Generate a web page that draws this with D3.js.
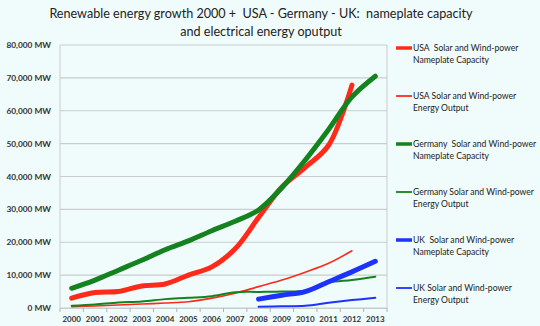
<!DOCTYPE html>
<html>
<head>
<meta charset="utf-8">
<script src="https://cdn.jsdelivr.net/npm/d3@7"></script>
<style>
  html, body { margin: 0; padding: 0; background: #f0fbfb; }
  svg { display: block; font-family: Lato, "Open Sans", sans-serif; }
  text { white-space: pre; }
</style>
</head>
<body>
<script>
const years = ['2000', '2001', '2002', '2003', '2004', '2005', '2006', '2007', '2008', '2009', '2010', '2011', '2012', '2013'];
const yTicks = [0, 10000, 20000, 30000, 40000, 50000, 60000, 70000, 80000];

const usaCapacity = [3000, 4700, 5000, 6700, 7300, 10000, 12500, 18000, 27500, 36800, 42800, 49500, 67800, null];
const usaOutput = [400, 600, 900, 1200, 1500, 1900, 3000, 4500, 6500, 8500, 10900, 13600, 17400, null];
const gerCapacity = [6000, 8500, 11500, 14500, 17700, 20400, 23500, 26400, 29800, 36600, 45000, 54300, 64200, 70500];
const gerOutput = [700, 1100, 1700, 2000, 2700, 3100, 3600, 4800, 4900, 5000, 5300, 7700, 8500, 9500];
const ukCapacity = [null, null, null, null, null, null, null, null, 2700, 3900, 5000, 8000, 11000, 14200];
const ukOutput = [null, null, null, null, null, null, null, null, 400, 500, 700, 1600, 2400, 3100];

const seriesNames = [
  ['USA  Solar and Wind-power', 'Nameplate Capacity'],
  ['USA Solar and Wind-power', 'Energy Output'],
  ['Germany  Solar and Wind-power', 'Nameplate Capacity'],
  ['Germany Solar and Wind-power', 'Energy Output'],
  ['UK  Solar and Wind-power', 'Nameplate Capacity'],
  ['UK Solar and Wind-power', 'Energy Output']
];

function main() {
  const width = 540;
  const height = 326;
  const margin = {top: 45, right: 153, bottom: 18, left: 60};

  const svg = d3.select('body').append('svg')
    .attr('width', width)
    .attr('height', height);

  svg.append('rect')
    .attr('width', width)
    .attr('height', height)
    .attr('fill', '#f0fbfb');

  const x = d3.scaleBand()
    .domain(years)
    .range([margin.left, width - margin.right]);

  const y = d3.scaleLinear()
    .domain([0, 80000])
    .range([height - margin.bottom, margin.top]);

  const series = [
    {values: usaCapacity, color: '#ff2a1a', w: 5},
    {values: usaOutput, color: '#ff2a1a', w: 1.6},
    {values: gerCapacity, color: '#14821e', w: 5},
    {values: gerOutput, color: '#14821e', w: 2},
    {values: ukCapacity, color: '#1e32ff', w: 5},
    {values: ukOutput, color: '#1e32ff', w: 2}
  ];

  // title
  const title = svg.append('text')
    .attr('text-anchor', 'middle')
    .attr('font-size', 12.6)
    .attr('fill', '#222');
  title.append('tspan').attr('x', 261).attr('y', 18)
    .text('Renewable energy growth 2000 +  USA - Germany - UK:  nameplate capacity');
  title.append('tspan').attr('x', 261).attr('y', 36)
    .text('and electrical energy oputput');

  // gridlines
  svg.append('g')
    .selectAll('line')
    .data(yTicks)
    .enter()
    .append('line')
    .attr('x1', margin.left)
    .attr('x2', width - margin.right)
    .attr('y1', d => y(d))
    .attr('y2', d => y(d))
    .attr('stroke', '#c9cdcd')
    .attr('stroke-width', 1.2);

  // plot frame sides
  svg.append('line')
    .attr('x1', margin.left).attr('x2', margin.left)
    .attr('y1', y(80000)).attr('y2', y(0))
    .attr('stroke', '#c9cdcd');
  svg.append('line')
    .attr('x1', width - margin.right).attr('x2', width - margin.right)
    .attr('y1', y(80000)).attr('y2', y(0))
    .attr('stroke', '#c9cdcd');

  // y axis labels
  svg.append('g')
    .selectAll('text')
    .data(yTicks)
    .enter()
    .append('text')
    .attr('x', 51)
    .attr('y', d => y(d) + 3)
    .attr('text-anchor', 'end')
    .attr('font-size', 8.3)
    .attr('font-weight', 'bold')
    .attr('fill', '#333')
    .text(d => d3.format(',')(d) + ' MW');

  // x axis
  const xAxis = svg.append('g')
    .attr('transform', `translate(0,${y(0)})`)
    .call(d3.axisBottom(x).tickSize(0).tickPadding(8));
  xAxis.select('.domain').attr('stroke', '#c9cdcd').attr('stroke-width', 1.2);
  xAxis.selectAll('text')
    .attr('font-size', 8)
    .attr('font-weight', 'bold')
    .attr('fill', '#333')
    .style('font-family', 'Lato, sans-serif');
  xAxis.selectAll('.bound')
    .data(years.concat(['end']))
    .enter()
    .append('line')
    .attr('x1', (d, i) => margin.left + i * x.step())
    .attr('x2', (d, i) => margin.left + i * x.step())
    .attr('y1', 0)
    .attr('y2', 4)
    .attr('stroke', '#b0b4b4');

  // lines
  const line = d3.line()
    .defined(d => d != null)
    .x((d, i) => x(years[i]) + x.bandwidth() / 2)
    .y(d => y(d))
    .curve(d3.curveCatmullRom.alpha(0.5));

  // thin lines first, thick lines on top
  const order = [1, 3, 5, 4, 0, 2];
  svg.append('g')
    .selectAll('path')
    .data(order.map(i => series[i]))
    .enter()
    .append('path')
    .attr('d', d => line(d.values))
    .attr('fill', 'none')
    .attr('stroke', d => d.color)
    .attr('stroke-width', d => d.w)
    .attr('stroke-linecap', 'round')
    .attr('stroke-linejoin', 'round');

  // legend
  const legend = svg.append('g')
    .selectAll('g')
    .data(series)
    .enter()
    .append('g')
    .attr('transform', (d, i) => `translate(396,${48 + i * 48})`);

  legend.append('line')
    .attr('x1', 0)
    .attr('x2', 16)
    .attr('stroke', d => d.color)
    .attr('stroke-width', d => d.w >= 5 ? 3.5 : 1.8);

  legend.append('text')
    .attr('font-size', 8.6)
    .attr('fill', '#222')
    .selectAll('tspan')
    .data((d, i) => seriesNames[i])
    .enter()
    .append('tspan')
    .attr('x', 17)
    .attr('y', (d, j) => 3 + j * 11.5)
    .text(d => d);
}

main();
</script>
</body>
</html>
